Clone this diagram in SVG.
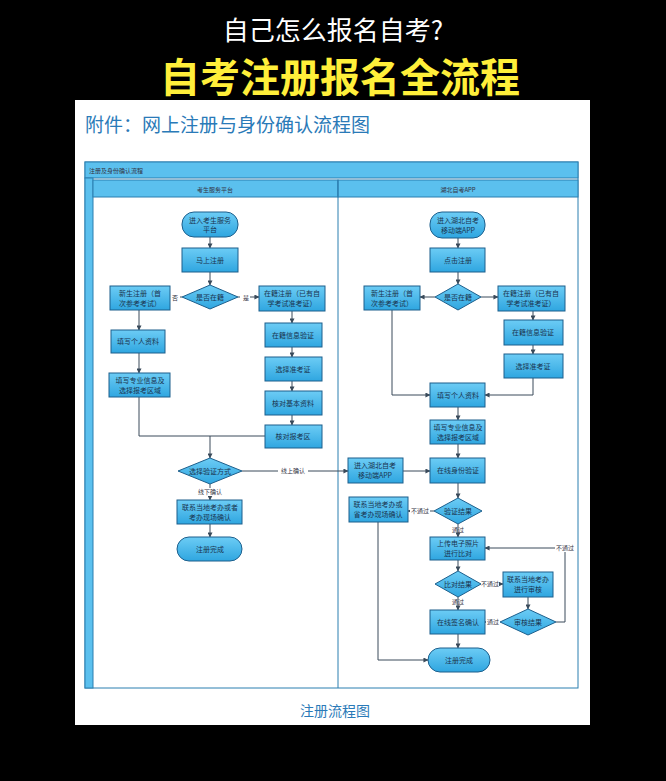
<svg xmlns="http://www.w3.org/2000/svg" width="666" height="781" viewBox="0 0 666 781">
<defs>
<marker id="a" viewBox="0 0 6 6" refX="5.5" refY="3" markerWidth="5" markerHeight="5" orient="auto"><path d="M0,0L6,3L0,6z" fill="#3a4a5a"/></marker>
<linearGradient id="g" x1="0" y1="0" x2="0" y2="1"><stop offset="0" stop-color="#6cccf5"/><stop offset="1" stop-color="#2fa6e0"/></linearGradient>
</defs>
<style>
.n{fill:url(#g);stroke:#1d5f8c;stroke-width:1}
.t{font-family:"Noto Sans CJK SC",sans-serif;font-size:7px;fill:#1a3550;text-anchor:middle}
.l{font-family:"Noto Sans CJK SC",sans-serif;font-size:6px;fill:#334;text-anchor:middle}
.c{fill:none;stroke:#3a4a5a;stroke-width:1}
.h{fill:#5bc0ee;stroke:#2a7fb0;stroke-width:1}
</style>
<rect width="666" height="781" fill="#000"/>
<text x="333" y="40" font-family="Noto Sans CJK SC,sans-serif" font-size="26" fill="#fff" text-anchor="middle">自己怎么报名自考?</text>
<text x="340" y="92" font-family="Noto Sans CJK SC,sans-serif" font-size="40" font-weight="bold" fill="#ffef3a" text-anchor="middle">自考注册报名全流程</text>
<rect x="75" y="100" width="515" height="625" fill="#fff"/>
<text x="85" y="132" font-family="Noto Sans CJK SC,sans-serif" font-size="19" fill="#2a7ab8">附件：网上注册与身份确认流程图</text>
<text x="335" y="716" font-family="Noto Sans CJK SC,sans-serif" font-size="14" fill="#2a7ab8" text-anchor="middle">注册流程图</text>
<g id="pool">
<rect x="85" y="162" width="493" height="526" fill="#fff" stroke="#2a7fb0"/>
<rect class="h" x="85" y="162" width="493" height="16"/>
<text x="89" y="173" class="l" style="text-anchor:start">注册及身份确认流程</text>
<rect class="h" x="85" y="178" width="8" height="510"/>
<rect class="h" x="93" y="180" width="245" height="17"/>
<rect class="h" x="338" y="180" width="240" height="17"/>
<line x1="338" y1="180" x2="338" y2="688" stroke="#2a7fb0"/>
<text x="215" y="192" class="l">考生服务平台</text>
<text x="458" y="192" class="l">湖北自考APP</text>
</g>
<g id="connectors">
<path class="c" d="M210 237V248" marker-end="url(#a)"/>
<path class="c" d="M210 272V285" marker-end="url(#a)"/>
<path class="c" d="M182 297H170" marker-end="url(#a)"/>
<path class="c" d="M238 297H259" marker-end="url(#a)"/>
<path class="c" d="M139 310V330" marker-end="url(#a)"/>
<path class="c" d="M139 353V373" marker-end="url(#a)"/>
<path class="c" d="M292 311V323" marker-end="url(#a)"/>
<path class="c" d="M292 347V357" marker-end="url(#a)"/>
<path class="c" d="M292 381V391" marker-end="url(#a)"/>
<path class="c" d="M292 415V425" marker-end="url(#a)"/>
<path class="c" d="M139 397V436H265"/>
<path class="c" d="M210 436V458" marker-end="url(#a)"/>
<path class="c" d="M242 471H348" marker-end="url(#a)"/>
<path class="c" d="M210 484V500" marker-end="url(#a)"/>
<path class="c" d="M210 524V537" marker-end="url(#a)"/>
<rect x="170" y="294" width="10" height="7" fill="#fff"/><text x="175" y="300" class="l">否</text>
<rect x="240" y="294" width="10" height="7" fill="#fff"/><text x="246" y="300" class="l">是</text>
<rect x="278" y="467" width="30" height="8" fill="#fff"/><text x="293" y="473" class="l">线上确认</text>
<rect x="196" y="488" width="28" height="8" fill="#fff"/><text x="210" y="494" class="l">线下确认</text>
<path class="c" d="M458 238V248" marker-end="url(#a)"/>
<path class="c" d="M458 272V284" marker-end="url(#a)"/>
<path class="c" d="M435 297H420" marker-end="url(#a)"/>
<path class="c" d="M481 297H498" marker-end="url(#a)"/>
<path class="c" d="M533 311V320" marker-end="url(#a)"/>
<path class="c" d="M533 345V354" marker-end="url(#a)"/>
<path class="c" d="M392 310V395H430" marker-end="url(#a)"/>
<path class="c" d="M533 378V395H485" marker-end="url(#a)"/>
<path class="c" d="M458 407V420" marker-end="url(#a)"/>
<path class="c" d="M458 444V458" marker-end="url(#a)"/>
<path class="c" d="M403 471H430" marker-end="url(#a)"/>
<path class="c" d="M458 483V498" marker-end="url(#a)"/>
<path class="c" d="M434 511H408" marker-end="url(#a)"/>
<path class="c" d="M458 524V537" marker-end="url(#a)"/>
<path class="c" d="M458 560V571" marker-end="url(#a)"/>
<path class="c" d="M481 584H503" marker-end="url(#a)"/>
<path class="c" d="M458 597V610" marker-end="url(#a)"/>
<path class="c" d="M528 597V609" marker-end="url(#a)"/>
<path class="c" d="M500 622H485" marker-end="url(#a)"/>
<path class="c" d="M556 622H565V548H485" marker-end="url(#a)"/>
<path class="c" d="M458 634V648" marker-end="url(#a)"/>
<path class="c" d="M378 522V660H428" marker-end="url(#a)"/>
<rect x="410" y="507" width="20" height="8" fill="#fff"/><text x="420" y="513" class="l">不通过</text>
<text x="458" y="532" class="l">通过</text>
<rect x="479" y="580" width="20" height="8" fill="#fff"/><text x="490" y="586" class="l">不通过</text>
<text x="458" y="604" class="l">通过</text>
<rect x="486" y="618" width="14" height="8" fill="#fff"/><text x="493" y="624" class="l">通过</text>
<rect x="555" y="544" width="20" height="8" fill="#fff"/><text x="565" y="550" class="l">不通过</text>
</g>
<g id="L1"><rect class="n" x="182" y="212" width="56" height="25" rx="12"/><text class="t" x="210" y="223">进入考生服务</text><text class="t" x="210" y="232">平台</text></g>
<g id="L2"><rect class="n" x="182" y="248" width="56" height="24"/><text class="t" x="210" y="263">马上注册</text></g>
<g id="L3"><path class="n" d="M182 297L210 285L238 297L210 309z"/><text class="t" x="210" y="300">是否在籍</text></g>
<g id="L4"><rect class="n" x="110" y="286" width="60" height="24"/><text class="t" x="140" y="296">新生注册（首</text><text class="t" x="140" y="306">次参考考试）</text></g>
<g id="L5"><rect class="n" x="259" y="286" width="66" height="25"/><text class="t" x="292" y="296">在籍注册（已有自</text><text class="t" x="292" y="306">学考试准考证）</text></g>
<g id="L6"><rect class="n" x="111" y="330" width="54" height="23"/><text class="t" x="138" y="344">填写个人资料</text></g>
<g id="L7"><rect class="n" x="109" y="373" width="61" height="24"/><text class="t" x="140" y="383">填写专业信息及</text><text class="t" x="140" y="393">选择报考区域</text></g>
<g id="L8"><rect class="n" x="265" y="323" width="57" height="24"/><text class="t" x="293" y="338">在籍信息验证</text></g>
<g id="L9"><rect class="n" x="265" y="357" width="57" height="24"/><text class="t" x="293" y="372">选择准考证</text></g>
<g id="L10"><rect class="n" x="265" y="391" width="57" height="24"/><text class="t" x="293" y="406">核对基本资料</text></g>
<g id="L11"><rect class="n" x="265" y="425" width="57" height="23"/><text class="t" x="293" y="439">核对报考区</text></g>
<g id="L12"><path class="n" d="M178 471L210 458L242 471L210 484z"/><text class="t" x="210" y="474">选择验证方式</text></g>
<g id="L13"><rect class="n" x="177" y="500" width="65" height="24"/><text class="t" x="210" y="510">联系当地考办或者</text><text class="t" x="210" y="520">考办现场确认</text></g>
<g id="L14"><rect class="n" x="177" y="537" width="65" height="24" rx="12"/><text class="t" x="210" y="552">注册完成</text></g>
<g id="R1"><rect class="n" x="430" y="212" width="55" height="26" rx="12"/><text class="t" x="458" y="223">进入湖北自考</text><text class="t" x="458" y="233">移动端APP</text></g>
<g id="R2"><rect class="n" x="430" y="248" width="55" height="24"/><text class="t" x="458" y="263">点击注册</text></g>
<g id="R3"><path class="n" d="M435 297L458 284L481 297L458 310z"/><text class="t" x="458" y="300">是否在籍</text></g>
<g id="R4"><rect class="n" x="364" y="286" width="56" height="24"/><text class="t" x="392" y="296">新生注册（首</text><text class="t" x="392" y="306">次参考考试）</text></g>
<g id="R5"><rect class="n" x="498" y="286" width="67" height="25"/><text class="t" x="531" y="296">在籍注册（已有自</text><text class="t" x="531" y="306">学考试准考证）</text></g>
<g id="R6"><rect class="n" x="504" y="320" width="59" height="25"/><text class="t" x="533" y="335">在籍信息验证</text></g>
<g id="R7"><rect class="n" x="504" y="354" width="59" height="24"/><text class="t" x="533" y="369">选择准考证</text></g>
<g id="R8"><rect class="n" x="430" y="383" width="55" height="24"/><text class="t" x="458" y="398">填写个人资料</text></g>
<g id="R9"><rect class="n" x="430" y="420" width="55" height="24"/><text class="t" x="458" y="430">填写专业信息及</text><text class="t" x="458" y="440">选择报考区域</text></g>
<g id="R10"><rect class="n" x="348" y="458" width="55" height="25"/><text class="t" x="375" y="468">进入湖北自考</text><text class="t" x="375" y="478">移动端APP</text></g>
<g id="R11"><rect class="n" x="430" y="458" width="55" height="25"/><text class="t" x="458" y="473">在线身份验证</text></g>
<g id="R12"><path class="n" d="M434 511L458 498L482 511L458 524z"/><text class="t" x="458" y="514">验证结果</text></g>
<g id="R13"><rect class="n" x="349" y="497" width="59" height="25"/><text class="t" x="378" y="507">联系当地考办或</text><text class="t" x="378" y="517">省考办现场确认</text></g>
<g id="R14"><rect class="n" x="430" y="537" width="55" height="23"/><text class="t" x="458" y="546">上传电子照片</text><text class="t" x="458" y="556">进行比对</text></g>
<g id="R15"><path class="n" d="M435 584L458 571L481 584L458 597z"/><text class="t" x="458" y="587">比对结果</text></g>
<g id="R16"><rect class="n" x="503" y="572" width="50" height="25"/><text class="t" x="528" y="582">联系当地考办</text><text class="t" x="528" y="592">进行审核</text></g>
<g id="R17"><path class="n" d="M500 622L528 609L556 622L528 635z"/><text class="t" x="528" y="625">审核结果</text></g>
<g id="R18"><rect class="n" x="430" y="610" width="55" height="24"/><text class="t" x="458" y="625">在线签名确认</text></g>
<g id="R19"><rect class="n" x="428" y="648" width="62" height="24" rx="12"/><text class="t" x="459" y="663">注册完成</text></g>
</svg>
